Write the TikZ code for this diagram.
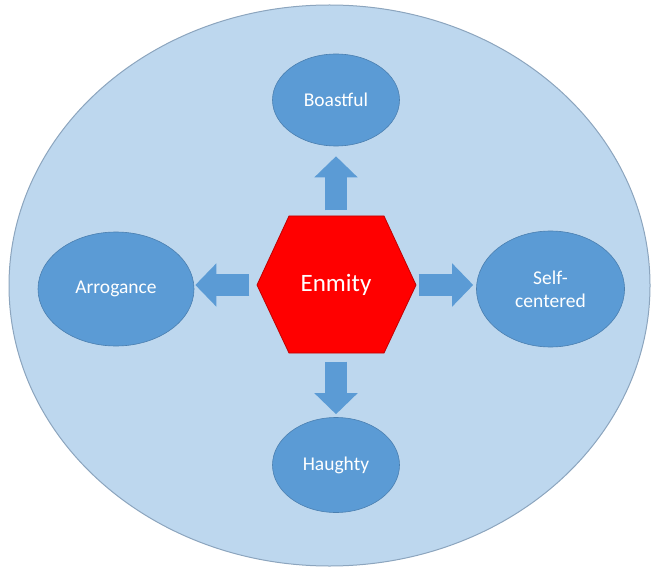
\documentclass[tikz,border=0pt]{standalone}
\usepackage{fontspec}
\setmainfont{Carlito}
\usetikzlibrary{arrows.meta,shapes.geometric}
\definecolor{backfill}{HTML}{BDD7EE}
\definecolor{backline}{HTML}{8CA5BE}
\definecolor{traitfill}{HTML}{5B9BD5}
\definecolor{traitline}{HTML}{4A7FB0}
\definecolor{hexred}{HTML}{FF0000}
\definecolor{hexline}{HTML}{C00000}
\begin{document}
\begin{tikzpicture}[x=1pt,y=-1pt,
    trait/.style={ellipse, fill=traitfill, draw=traitline, line width=.6pt, inner sep=0pt,
      text=white, align=center, font=\fontsize{19.5}{23}\selectfont},
    blockarrow/.style={traitfill, line width=22pt, -{Triangle[length=21pt,width=42pt]}}]
    \useasboundingbox (0,0) rectangle (655,569);
    \coordinate (HexW)  at (257,285);
    \coordinate (HexNW) at (289,216);
    \coordinate (HexNE) at (384,216);
    \coordinate (HexE)  at (416,285);
    \coordinate (HexSE) at (384,353);
    \coordinate (HexSW) at (289,353);
    \draw [fill=backfill, draw=backline, line width=1pt] (329.5,285.5) ellipse [x radius=320.5, y radius=280.5];% backdrop
    \draw [fill=hexred, draw=hexline, line width=.8pt] (HexW) -- (HexNW) -- (HexNE) -- (HexE) -- (HexSE) -- (HexSW) -- cycle;% hexagon
    \node [minimum width=159pt, minimum height=137pt, inner sep=0pt, text=white, font=\fontsize{25}{30}\selectfont] (enmity) at (336,285) {Enmity};
    \node [trait, minimum width=127pt, minimum height=92pt]  (boastful)  at (336,100)   {Boastful};
    \node [trait, minimum width=156pt, minimum height=114pt] (arrogance) at (116,289)   {Arrogance};
    \node [trait, minimum width=148pt, minimum height=116pt] (selfcent)  at (550.5,289) {Self-\\centered};
    \node [trait, minimum width=127pt, minimum height=95pt]  (haughty)   at (336,465)   {Haughty};
    \draw [blockarrow, shorten <=6pt, shorten >=10pt] (enmity.north) -- (boastful.south);
    \draw [blockarrow, shorten <=8pt, shorten >=3pt]  (enmity.south) -- (haughty.north);
    \draw [blockarrow, shorten <=7pt, shorten >=1pt]  (enmity.west)  -- (enmity.west -| arrogance.east);
    \draw [blockarrow, shorten <=3pt, shorten >=3pt]  (enmity.east)  -- (enmity.east -| selfcent.west);
  \end{tikzpicture}
\end{document}
